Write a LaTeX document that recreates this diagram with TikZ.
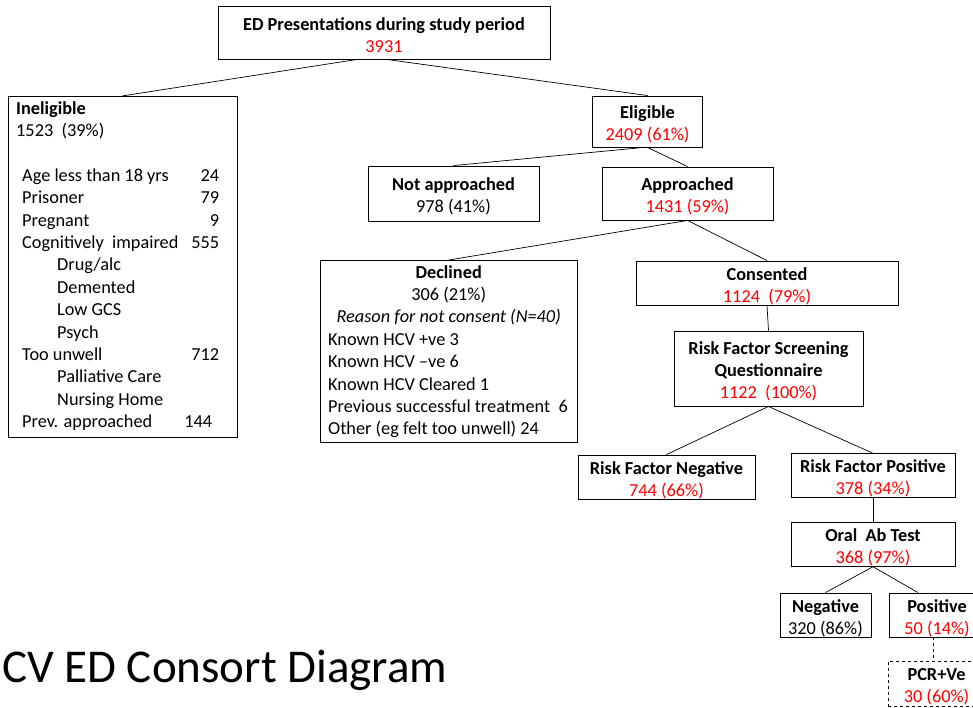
\documentclass[tikz,border=0pt]{standalone}
\usepackage{fontspec}
\setmainfont{Carlito}
\newcommand\tp{\rule{0pt}{19pt}}
\begin{document}
\begin{tikzpicture}[x=1pt,y=-1pt,
  box/.style={draw, line width=0.9pt, inner sep=0pt, align=center, font=\fontsize{18.3}{22}\selectfont},
  plainbox/.style={draw, line width=0.9pt, inner sep=0pt, anchor=north west},
  txt/.style={inner sep=0pt, anchor=north west},
  link/.style={line width=0.7pt},
  dlink/.style={line width=0.7pt, dashed}]
\useasboundingbox (0,0) rectangle (973,708);
\clip (0,0) rectangle (973,708);

% top
\node[box, minimum width=332pt, minimum height=53pt] (top) at (384,32.5)
  {\tp\textbf{ED Presentations during study period}\\\textcolor{red}{3931}};

% ineligible
\node[plainbox, minimum width=229pt, minimum height=341pt] (inel) at (8,96) {};
\node[txt] (ineltext) at (16,98.3) {\parbox[t]{203pt}{\fontsize{18.3}{22.4}\selectfont\strut\textbf{Ineligible}\\
1523\ \ (39\%)\\
\mbox{}\\
\hspace*{6pt}Age less than 18 yrs\hfill 24\\
\hspace*{6pt}Prisoner\hfill 79\\
\hspace*{6pt}Pregnant\hfill 9\\
\hspace*{6pt}Cognitively\ \ impaired\hfill 555\\
\hspace*{41pt}Drug/alc\\
\hspace*{41pt}Demented\\
\hspace*{41pt}Low GCS\\
\hspace*{41pt}Psych\\
\hspace*{6pt}Too unwell\hfill 712\\
\hspace*{41pt}Palliative Care\\
\hspace*{41pt}Nursing Home\\
\hspace*{6pt}Prev. approached\hfill 144\hspace*{7pt}}};

% eligible branch
\node[box, minimum width=110pt, minimum height=51pt] (elig) at (647.5,121.5)
  {\tp\textbf{Eligible}\\\textcolor{red}{2409 (61\%)}};
\node[box, minimum width=171pt, minimum height=55pt] (notapp) at (453.5,193.5)
  {\tp\textbf{Not approached}\\978 (41\%)};
\node[box, minimum width=171pt, minimum height=53pt] (app) at (687.5,193.5)
  {\tp\textbf{Approached}\\\textcolor{red}{1431 (59\%)}};

% declined
\node[plainbox, minimum width=257pt, minimum height=182pt] (decl) at (320,260) {};
\node[txt] (decltext) at (328,262.3) {\parbox[t]{241pt}{\fontsize{18.3}{22.4}\selectfont\strut
\makebox[\linewidth][c]{\textbf{Declined}}\\
\makebox[\linewidth][c]{306 (21\%)}\\
\makebox[\linewidth][c]{\itshape Reason for not consent (N=40)}\\
Known HCV +ve 3\\
Known HCV \textendash ve 6\\
Known HCV Cleared 1\\
Previous successful treatment\ \ 6\\
Other (eg felt too unwell) 24}};

% consented branch
\node[box, minimum width=262pt, minimum height=44pt] (cons) at (767,283)
  {\tp\textbf{Consented}\\\textcolor{red}{1124\ \ (79\%)}};
\node[box, minimum width=189pt, minimum height=75pt] (rfsq) at (768.5,368.5)
  {\tp\textbf{Risk Factor Screening}\\\textbf{Questionnaire}\\\textcolor{red}{1122\ \ (100\%)}};
\node[box, minimum width=177pt, minimum height=44pt] (rfneg) at (666.5,477)
  {\tp\textbf{Risk Factor Negative}\\\textcolor{red}{744 (66\%)}};
\node[box, minimum width=164pt, minimum height=43pt] (rfpos) at (873,475.5)
  {\tp\textbf{Risk Factor Positive}\\\textcolor{red}{378 (34\%)}};
\node[box, minimum width=164pt, minimum height=43pt] (oral) at (873,544.5)
  {\tp\textbf{Oral\ \ Ab Test}\\\textcolor{red}{368 (97\%)}};
\node[box, minimum width=91pt, minimum height=44pt] (neg) at (825.5,615)
  {\tp\textbf{Negative}\\320 (86\%)};
\node[box, minimum width=96pt, minimum height=44pt] (pos) at (937,615)
  {\tp\textbf{Positive}\\\textcolor{red}{50 (14\%)}};
\node[box, dashed, minimum width=97pt, minimum height=45pt] (pcr) at (936.5,683.5)
  {\tp\textbf{PCR+Ve}\\\textcolor{red}{30 (60\%)}};

% title
\node[inner sep=0pt, anchor=base west, font=\fontsize{47}{56}\selectfont] (title) at (2,682)
  {CV ED Consort Diagram};

% connectors
\draw[link] ([xshift=-27pt]top.south) -- ([xshift=-1pt]inel.north);
\draw[link] ([xshift=3pt]top.south) -- (elig.north);
\draw[link] ([xshift=-4pt]elig.south) -- (notapp.north);
\draw[link] (elig.south) -- (app.north);
\draw[link] (app.south) -- (decl.north);
\draw[link] (app.south) -- (cons.north);
\draw[link] (cons.south) -- (rfsq.north);
\draw[link] (rfsq.south) -- (rfneg.north);
\draw[link] (rfsq.south) -- (rfpos.north);
\draw[link] (rfpos.south) -- (oral.north);
\draw[link] (oral.south) -- (neg.north);
\draw[link] (oral.south) -- ([xshift=-19pt]pos.north);
\draw[dlink] ([xshift=-4pt]pos.south) -- ([xshift=-4pt]pos.south |- pcr.north);
\end{tikzpicture}
\end{document}
